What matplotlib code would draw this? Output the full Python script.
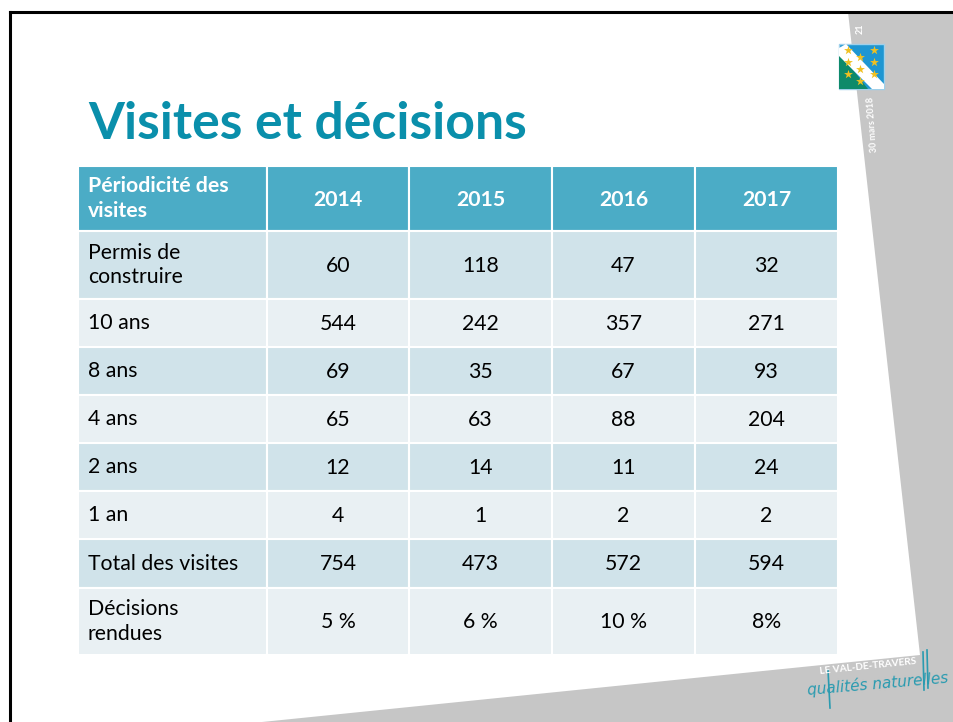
import matplotlib
matplotlib.use('Agg')
import matplotlib.pyplot as plt
from matplotlib.patches import Rectangle, Polygon

plt.rcParams['font.family'] = ['Lato', 'DejaVu Sans']

# donnees du tableau
titre = "Visites et décisions"
entete = "Périodicité des\nvisites"
annees = ["2014", "2015", "2016", "2017"]
lignes = ["Permis de\nconstruire", "10 ans", "8 ans", "4 ans", "2 ans", "1 an",
          "Total des visites", "Décisions\nrendues"]
valeurs = [
    ["60", "118", "47", "32"],
    ["544", "242", "357", "271"],
    ["69", "35", "67", "93"],
    ["65", "63", "88", "204"],
    ["12", "14", "11", "24"],
    ["4", "1", "2", "2"],
    ["754", "473", "572", "594"],
    ["5 %", "6 %", "10 %", "8%"],
]

# mise en page (pixels)
col_x = [78, 267, 409, 552, 695, 838]
row_y = [166, 231, 299, 347, 395, 443, 491, 539, 588, 655]
bleu_entete = '#4bacc6'
fond_fonce = '#d0e3ea'
fond_clair = '#e9f0f3'
gris = '#c6c6c6'
fs = 15.3

fig = plt.figure(figsize=(9.54, 7.22), dpi=100)
ax = fig.add_axes([0, 0, 1, 1])
ax.set_xlim(0, 954)
ax.set_ylim(722, 0)
ax.axis('off')

# fond gris de la "page"
ax.add_patch(Polygon([(848, 12), (954, 12), (954, 722), (262, 722), (920, 655)],
                     closed=True, color=gris, lw=0))
# cadre noir
ax.plot([10, 954], [12, 12], color='black', lw=2.2)
ax.plot([10, 10], [12, 722], color='black', lw=2.2)

ax.text(88, 139, titre, fontsize=37.3, fontweight='bold', color='#0a8fab', va='baseline')

# entete
for j in range(5):
    x0, x1 = col_x[j], col_x[j + 1]
    ax.add_patch(Rectangle((x0, row_y[0]), x1 - x0, row_y[1] - row_y[0],
                           facecolor=bleu_entete, edgecolor='white', lw=1.5))
ax.text(88, (row_y[0] + row_y[1]) / 2, entete, fontsize=fs, fontweight='bold',
        color='white', va='center', linespacing=1.3)
for j, a in enumerate(annees):
    ax.text((col_x[j + 1] + col_x[j + 2]) / 2, (row_y[0] + row_y[1]) / 2 + 1, a,
            fontsize=fs, fontweight='bold', color='white', ha='center', va='center')

# corps
for i, lab in enumerate(lignes):
    y0, y1 = row_y[i + 1], row_y[i + 2]
    fc = fond_fonce if i % 2 == 0 else fond_clair
    for j in range(5):
        x0, x1 = col_x[j], col_x[j + 1]
        ax.add_patch(Rectangle((x0, y0), x1 - x0, y1 - y0, facecolor=fc,
                               edgecolor='white', lw=1.5))
    ax.text(88, (y0 + y1) / 2, lab, fontsize=fs, color='black', va='center',
            linespacing=1.3)
    for j, v in enumerate(valeurs[i]):
        ax.text((col_x[j + 1] + col_x[j + 2]) / 2, (y0 + y1) / 2 + 1, v, fontsize=fs,
                color='black', ha='center', va='center')

# logo drapeau en haut a droite
ax.add_patch(Rectangle((839, 44), 45, 45, facecolor='#1e96d2', edgecolor='#9fd0ea', lw=1))
ax.add_patch(Polygon([(839, 52), (839, 89), (868, 89)], closed=True, color='#0e8a6a', lw=0))
ax.add_patch(Polygon([(839, 48), (846, 44), (884, 84), (884, 89), (872, 89), (839, 56)],
                     closed=True, color='white', lw=0))
ax.scatter([848, 860, 874, 848, 860, 874, 848, 860, 874],
           [50, 57, 50, 62, 69, 62, 74, 81, 74],
           marker='*', s=45, color='#f0c020', zorder=5, lw=0)
ax.text(860, 29, "21", fontsize=6.5, fontweight='bold', color='white', rotation=90,
        ha='center', va='center')
ax.text(873, 125, "30 mars 2018", fontsize=6.5, fontweight='bold', color='white',
        rotation=94, ha='center', va='center')

# logo en bas a droite
ax.text(868, 666, "LE VAL-DE-TRAVERS", fontsize=7.2, fontweight='bold', color='white',
        rotation=6, ha='center', va='center')
ax.text(878, 684, "qualités naturelles", fontsize=11, color='#2a9bb0', style='italic',
        rotation=5, ha='center', va='center', family=['DejaVu Sans'])
ax.plot([828, 830], [670, 708], color='#2a9bb0', lw=1.2)
ax.plot([923, 924], [652, 690], color='#2a9bb0', lw=1.2)
ax.plot([927, 928], [650, 688], color='#2a9bb0', lw=1.2)

fig.savefig('out.png', dpi=100)
